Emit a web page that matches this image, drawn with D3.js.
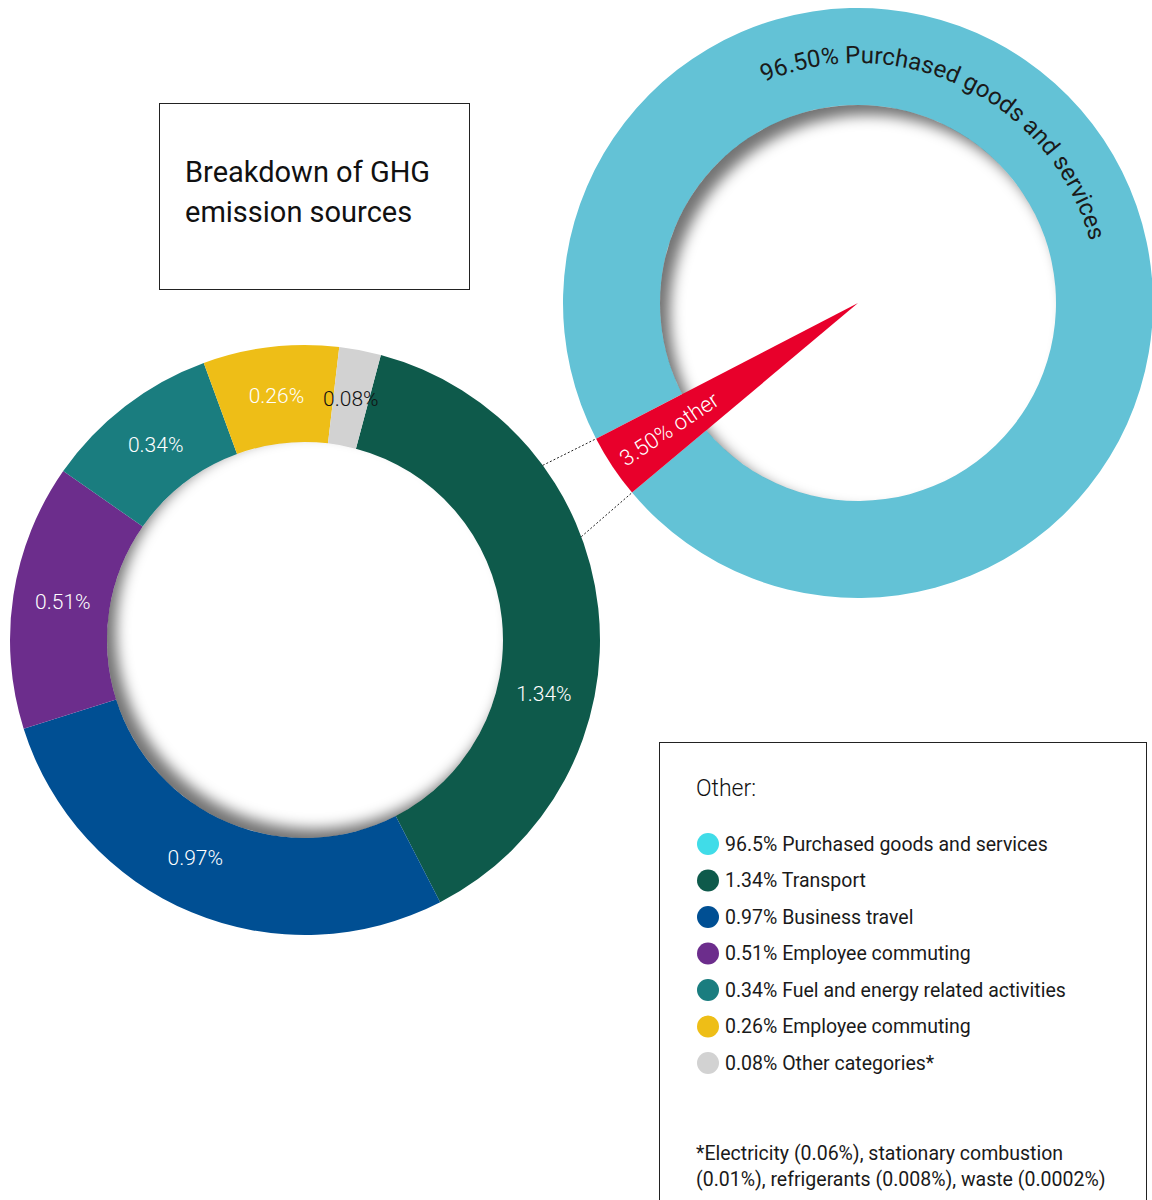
<!DOCTYPE html>
<html>
<head>
<meta charset="utf-8">
<script src="https://cdn.jsdelivr.net/npm/d3@7"></script>
<style>
  body { margin: 0; background: #fff; }
  svg { display: block; font-family: Roboto, "Open Sans", sans-serif; }
</style>
</head>
<body>
<script>
// main split
const mainNames = ["Purchased goods and services", "other"];
const mainValues = [96.5, 3.5];
const mainColors = ["#63c2d6", "#e8002b"];

// breakdown of the 3.5% "other"
const otherNames = ["Transport", "Business travel", "Employee commuting",
  "Fuel and energy related activities", "Employee commuting", "Other categories*"];
const otherValues = [1.34, 0.97, 0.51, 0.34, 0.26, 0.08];
const otherColors = ["#0e5a4b", "#004f93", "#6c2d8c", "#1a7d7f", "#eebe17", "#d2d2d2"];

const legendColors = ["#40dce8"].concat(otherColors);
const legendLabels = [mainValues[0] + "% " + mainNames[0]]
  .concat(otherValues.map((v, i) => v + "% " + otherNames[i]));

const titleLines = ["Breakdown of GHG", "emission sources"];
const footnote = ["*Electricity (0.06%), stationary combustion",
  "(0.01%), refrigerants (0.008%), waste (0.0002%)"];

const width = 1152, height = 1200;
const rOut = 295, rIn = 198;
const deg = Math.PI / 180;

const svg = d3.select("body").append("svg")
    .attr("width", width)
    .attr("height", height);

const defs = svg.append("defs");
defs.append("filter").attr("id", "blur")
    .attr("x", "-20%").attr("y", "-20%").attr("width", "140%").attr("height", "140%")
  .append("feGaussianBlur").attr("stdDeviation", 7);

function innerShadow(g, id, dx, dy) {
  defs.append("clipPath").attr("id", id)
    .append("circle").attr("r", rIn);
  g.append("g")
      .attr("clip-path", `url(#${id})`)
    .append("circle")
      .attr("cx", dx).attr("cy", dy)
      .attr("r", rIn + 20)
      .attr("fill", "none")
      .attr("stroke", "#000")
      .attr("stroke-opacity", 0.55)
      .attr("stroke-width", 40)
      .attr("filter", "url(#blur)");
}

const arc = d3.arc().innerRadius(rIn).outerRadius(rOut);

// ---- right donut
const cR = [858, 303];
const mainStart = 242.6 * deg;
const mainArcs = d3.pie().sort(null).startAngle(mainStart).endAngle(mainStart + 2 * Math.PI)(mainValues);

const gR = svg.append("g").attr("transform", `translate(${cR})`);
gR.append("path")
    .attr("d", arc(mainArcs[0]))
    .attr("fill", mainColors[0]);
innerShadow(gR, "clipR", 10, 10);
gR.append("path")
    .attr("d", d3.arc().innerRadius(0).outerRadius(rOut)(mainArcs[1]))
    .attr("fill", mainColors[1]);

// curved label
const tA0 = -35 * deg, tA1 = 87 * deg, tR = 240;
gR.append("path")
    .attr("id", "labelArc")
    .attr("fill", "none")
    .attr("d", `M${tR * Math.sin(tA0)},${-tR * Math.cos(tA0)} A${tR},${tR} 0 0 1 ${tR * Math.sin(tA1)},${-tR * Math.cos(tA1)}`);
gR.append("text")
    .attr("font-size", 24)
    .attr("fill", "#1a1a1a")
  .append("textPath")
    .attr("href", "#labelArc")
    .attr("startOffset", "50%")
    .attr("text-anchor", "middle")
    .text(mainValues[0].toFixed(2) + "% " + mainNames[0]);

const redMid = (mainArcs[1].startAngle + mainArcs[1].endAngle) / 2;
gR.append("text")
    .attr("transform", `translate(${227 * Math.sin(redMid)},${-227 * Math.cos(redMid)}) rotate(${redMid / deg - 360 - 270})`)
    .attr("text-anchor", "middle")
    .attr("dy", "0.35em")
    .attr("font-size", 22)
    .attr("font-weight", 300)
    .attr("fill", "#fff")
    .text(mainValues[1].toFixed(2) + "% " + mainNames[1]);

// ---- left donut
const cL = [305, 640];
const otherStart = 14.9 * deg;
const otherArcs = d3.pie().sort(null).startAngle(otherStart).endAngle(otherStart + 2 * Math.PI)(otherValues);

const gL = svg.append("g").attr("transform", `translate(${cL})`);
gL.selectAll("path.seg")
  .data(otherArcs)
  .join("path")
    .attr("class", "seg")
    .attr("d", arc)
    .attr("fill", (d, i) => otherColors[i]);
innerShadow(gL, "clipL", 9, -9);

const labelNudge = [19, 4, 0, 0, 0, 0];
gL.selectAll("text.lbl")
  .data(otherArcs)
  .join("text")
    .attr("class", "lbl")
    .attr("transform", (d, i) => {
      const a = (d.startAngle + d.endAngle) / 2 + labelNudge[i] * deg;
      return `translate(${245 * Math.sin(a)},${-245 * Math.cos(a)})`;
    })
    .attr("text-anchor", "middle")
    .attr("dy", "0.3em")
    .attr("font-size", 21)
    .attr("font-weight", 300)
    .attr("fill", (d, i) => i === otherValues.length - 1 ? "#111" : "#fff")
    .text(d => d.data.toFixed(2) + "%");

// ---- dotted connectors
const redArc = mainArcs[1];
[[53.7 * deg, redArc.endAngle], [69.5 * deg, redArc.startAngle]].forEach(([aL, aR]) => {
  svg.append("line")
      .attr("x1", cL[0] + rOut * Math.sin(aL))
      .attr("y1", cL[1] - rOut * Math.cos(aL))
      .attr("x2", cR[0] + rOut * Math.sin(aR))
      .attr("y2", cR[1] - rOut * Math.cos(aR))
      .attr("stroke", "#222")
      .attr("stroke-width", 1)
      .attr("stroke-dasharray", "2,2");
});

// ---- title box
svg.append("rect")
    .attr("x", 159.5).attr("y", 103.5)
    .attr("width", 310).attr("height", 186)
    .attr("fill", "none").attr("stroke", "#222");
svg.append("g").selectAll("text")
  .data(titleLines)
  .join("text")
    .attr("x", 185)
    .attr("y", (d, i) => 182 + i * 40)
    .attr("font-size", 29)
    .attr("fill", "#111")
    .text(d => d);

// ---- legend box
svg.append("rect")
    .attr("x", 659.5).attr("y", 742.5)
    .attr("width", 487).attr("height", 480)
    .attr("fill", "none").attr("stroke", "#222");
svg.append("text")
    .attr("x", 696).attr("y", 796)
    .attr("font-size", 23)
    .attr("font-weight", 300)
    .attr("fill", "#111")
    .text("Other:");

const ly = d3.scalePoint().domain(d3.range(legendLabels.length)).range([844, 1063]);
const leg = svg.append("g").selectAll("g")
  .data(legendLabels)
  .join("g")
    .attr("transform", (d, i) => `translate(708,${ly(i)})`);
leg.append("circle")
    .attr("r", 11)
    .attr("fill", (d, i) => legendColors[i]);
leg.append("text")
    .attr("x", 17)
    .attr("dy", "0.35em")
    .attr("font-size", 19.5)
    .attr("fill", "#1a1a1a")
    .text(d => d);

svg.append("g").selectAll("text")
  .data(footnote)
  .join("text")
    .attr("x", 696)
    .attr("y", (d, i) => 1160 + i * 26)
    .attr("font-size", 19.5)
    .attr("fill", "#1a1a1a")
    .text(d => d);
</script>
</body>
</html>
